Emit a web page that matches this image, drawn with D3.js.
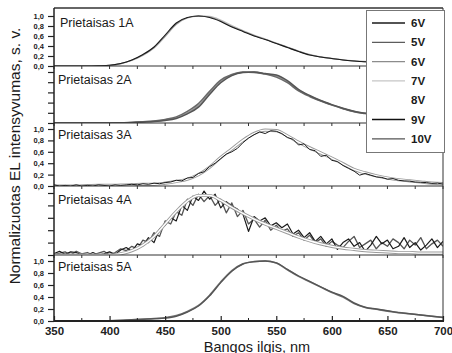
<!DOCTYPE html>
<html><head><meta charset="utf-8">
<script src="https://cdn.jsdelivr.net/npm/d3@7"></script>
<style>
body{margin:0;background:#fff}
svg{display:block;font-family:"Liberation Sans",Arial,sans-serif}
</style>
</head><body>
<svg id="c" width="452" height="353"></svg>
<script>
// ---------- data ----------
const wl10 = [350,360,370,380,390,400,410,420,430,440,450,460,470,480,490,500,510,520,530,540,550,560,570,580,590,600,610,620,630,640,650,660,670,680,690,700];
const wl5 = [350,355,360,365,370,375,380,385,390,395,400,405,410,415,420,425,430,435,440,445,450,455,460,465,470,475,480,485,490,495,500,505,510,515,520,525,530,535,540,545,550,555,560,565,570,575,580,585,590,595,600,605,610,615,620,625,630,635,640,645,650,655,660,665,670,675,680,685,690,695,700];

const xTickValues = [350,400,450,500,550,600,650,700];
const xMinorValues = [375,425,475,525,575,625,675];
const yTickValues = [0,0.2,0.4,0.6,0.8,1.0];
const panelNames = ["Prietaisas 1A","Prietaisas 2A","Prietaisas 3A","Prietaisas 4A","Prietaisas 5A"];
const legendLabels = ["6V","5V","6V","7V","8V","9V","10V"];
const legendColors = ["#1a1a1a","#5c5c5c","#8c8c8c","#c6c6c6","none","#111111","#555555"];
const xTitle = "Bangos ilgis, nm";
const yTitle = "Normalizuotas EL intensyvumas, s. v.";

// Prietaisas 1A
const p1_6V = [0,0,0,0,0.005,0.015,0.05,0.12,0.23,0.38,0.62,0.86,0.97,1.0,0.97,0.89,0.78,0.69,0.6,0.53,0.45,0.37,0.29,0.22,0.18,0.15,0.12,0.1,0.085,0.075,0.065,0.055,0.05,0.045,0.04,0.035];
const p1_7V = [0,0,0,0,0.005,0.012,0.045,0.11,0.21,0.36,0.59,0.83,0.96,1.0,0.99,0.92,0.81,0.71,0.62,0.54,0.46,0.38,0.3,0.23,0.185,0.15,0.125,0.1,0.09,0.08,0.07,0.06,0.05,0.045,0.04,0.035];
const p1_6Vb = [0,0,0,0,0.005,0.013,0.048,0.115,0.22,0.37,0.6,0.84,0.965,1.0,0.98,0.9,0.79,0.7,0.61,0.535,0.455,0.375,0.295,0.225,0.18,0.15,0.12,0.1,0.087,0.077,0.067,0.057,0.05,0.045,0.04,0.035];
// Prietaisas 2A
const p2_5V = [0,0,0,0,0,0,0.005,0.01,0.02,0.03,0.05,0.09,0.18,0.31,0.56,0.79,0.93,0.99,1.0,0.97,0.94,0.83,0.66,0.54,0.44,0.36,0.29,0.23,0.19,0.16,0.13,0.11,0.09,0.08,0.07,0.06];
const p2_10V = [0,0,0,0,0,0,0.005,0.012,0.025,0.04,0.07,0.12,0.23,0.38,0.62,0.84,0.95,1.0,0.99,0.96,0.9,0.79,0.63,0.52,0.43,0.35,0.28,0.22,0.185,0.155,0.13,0.11,0.09,0.08,0.07,0.06];
const p2_6V = [0,0,0,0,0,0,0.005,0.011,0.022,0.035,0.06,0.1,0.2,0.34,0.59,0.81,0.94,0.995,1.0,0.965,0.92,0.81,0.645,0.53,0.435,0.355,0.285,0.225,0.19,0.16,0.13,0.11,0.09,0.08,0.07,0.06];
// Prietaisas 3A
const p3_fit = [0,0,0,0.005,0.01,0.01,0.015,0.02,0.03,0.03,0.05,0.08,0.12,0.2,0.33,0.5,0.65,0.8,0.92,0.98,0.97,0.88,0.77,0.67,0.58,0.49,0.39,0.29,0.23,0.18,0.14,0.11,0.09,0.07,0.05,0.04];
const p3_9V = [0.02,0,0.01,0,0.02,0,0.01,0,0.02,0.01,0,0.02,0.01,0.02,0.03,0.02,0.04,0.03,0.05,0.04,0.06,0.07,0.1,0.09,0.14,0.15,0.22,0.25,0.34,0.4,0.48,0.56,0.6,0.66,0.76,0.84,0.9,0.95,0.92,0.97,0.96,0.92,0.85,0.82,0.72,0.74,0.64,0.62,0.52,0.54,0.45,0.43,0.36,0.31,0.26,0.19,0.22,0.19,0.16,0.15,0.12,0.13,0.1,0.09,0.085,0.07,0.065,0.06,0.045,0.05,0.035];
// Prietaisas 4A
const p4_fit = [0,0,0,0,0,0,0.02,0.07,0.16,0.3,0.5,0.7,0.87,0.96,0.96,0.88,0.77,0.67,0.58,0.5,0.43,0.36,0.29,0.23,0.18,0.14,0.11,0.09,0.07,0.06,0.05,0.04,0.04,0.03,0.03,0.03];
const p4_9V = [0.02,0.06,0.01,0.05,0.04,0,0,0.04,0,0.02,0.05,0.01,0.08,0.12,0.06,0.18,0.15,0.28,0.2,0.42,0.48,0.6,0.55,0.8,0.72,0.95,0.88,1.03,0.9,0.98,0.76,0.86,0.79,0.74,0.66,0.38,0.62,0.55,0.6,0.47,0.52,0.44,0.5,0.34,0.4,0.28,0.36,0.22,0.3,0.18,0.26,0.09,0.2,0.26,0.14,0.2,0.06,0.16,0.3,0.18,0.24,0.1,0.14,0.28,0.12,0.2,0.08,0.16,0.26,0.12,0.22];
const p4_10V = [0,0.03,0.05,0,0.06,0.02,0.04,0,0.03,0.06,0,0.04,0.1,0.07,0.14,0.1,0.24,0.2,0.36,0.3,0.55,0.5,0.7,0.64,0.9,0.8,0.98,0.86,0.96,0.8,0.9,0.68,0.84,0.62,0.72,0.5,0.58,0.45,0.56,0.4,0.48,0.38,0.42,0.3,0.36,0.24,0.32,0.2,0.26,0.14,0.22,0.16,0.12,0.22,0.3,0.12,0.18,0.24,0.1,0.2,0.14,0.26,0.2,0.1,0.24,0.16,0.28,0.1,0.18,0.24,0.14];
// Prietaisas 5A
const p5_5V = [0,0,0,0,0,0.005,0.01,0.02,0.03,0.04,0.05,0.08,0.15,0.25,0.42,0.64,0.83,0.95,0.99,1.0,0.97,0.86,0.75,0.66,0.57,0.48,0.41,0.3,0.23,0.2,0.17,0.14,0.12,0.1,0.08,0.06];
const p5_10V = [0,0,0,0,0,0.005,0.01,0.02,0.03,0.04,0.055,0.09,0.16,0.26,0.43,0.65,0.84,0.955,0.99,1.0,0.965,0.855,0.745,0.655,0.565,0.475,0.4,0.29,0.225,0.195,0.165,0.14,0.12,0.1,0.08,0.06];

// ---------- layout ----------
const svg = d3.select("#c");
const X0 = 54, X1 = 443;
const x = d3.scaleLinear().domain([350,700]).range([X0, X1]);
const panelTop = [8,66,123,186,255];
const panelBottom = [66,123,186,255,321];
const panelOne = [16,72,129,193,261];
const ys = panelTop.map((t,i) => d3.scaleLinear().domain([0,1]).range([panelBottom[i], panelOne[i]]));

const series = [
  {p:0, xs:wl10, v:p1_7V,  c:"#c0c0c0", w:1.3, curve:d3.curveMonotoneX},
  {p:0, xs:wl10, v:p1_6Vb, c:"#8c8c8c", w:1.1, curve:d3.curveMonotoneX},
  {p:0, xs:wl10, v:p1_6V,  c:"#1a1a1a", w:1.1, curve:d3.curveMonotoneX},
  {p:1, xs:wl10, v:p2_6V,  c:"#9a9a9a", w:1.5, curve:d3.curveMonotoneX},
  {p:1, xs:wl10, v:p2_10V, c:"#6a6a6a", w:1.5, curve:d3.curveMonotoneX},
  {p:1, xs:wl10, v:p2_5V,  c:"#555555", w:1.5, curve:d3.curveMonotoneX},
  {p:2, xs:wl10, v:p3_fit, c:"#9a9a9a", w:3.2, curve:d3.curveMonotoneX},
  {p:2, xs:wl10, v:p3_fit, c:"#ffffff", w:1.4, curve:d3.curveMonotoneX},
  {p:2, xs:wl5,  v:p3_9V,  c:"#1a1a1a", w:1.0, curve:d3.curveLinear},
  {p:3, xs:wl5,  v:p4_10V, c:"#555555", w:1.3, curve:d3.curveLinear},
  {p:3, xs:wl5,  v:p4_9V,  c:"#1a1a1a", w:1.2, curve:d3.curveLinear},
  {p:3, xs:wl10, v:p4_fit, c:"#9a9a9a", w:3.2, curve:d3.curveMonotoneX},
  {p:3, xs:wl10, v:p4_fit, c:"#ffffff", w:1.4, curve:d3.curveMonotoneX},
  {p:4, xs:wl10, v:p5_10V, c:"#7a7a7a", w:1.6, curve:d3.curveMonotoneX},
  {p:4, xs:wl10, v:p5_5V,  c:"#555555", w:1.4, curve:d3.curveMonotoneX}
];

const defs = svg.append("defs");
panelTop.forEach((t,i) => {
  defs.append("clipPath").attr("id","clip"+i).append("rect")
    .attr("x",X0).attr("y",t).attr("width",X1-X0).attr("height",panelBottom[i]-t);
});

series.forEach(s => {
  const y = ys[s.p];
  const line = d3.line().x((d,i)=>x(s.xs[i])).y(d=>y(d)).curve(s.curve);
  svg.append("path").attr("clip-path","url(#clip"+s.p+")")
    .attr("d", line(s.v)).attr("fill","none").attr("stroke",s.c)
    .attr("stroke-width",s.w).attr("stroke-linejoin","round");
});

// frame
svg.append("line").attr("x1",X0).attr("x2",X1).attr("y1",8).attr("y2",8).attr("stroke","#666").attr("stroke-width",2);
svg.append("line").attr("x1",X1).attr("x2",X1).attr("y1",8).attr("y2",321).attr("stroke","#333").attr("stroke-width",1);
panelBottom.slice(0,4).forEach(yb => {
  svg.append("line").attr("x1",X0).attr("x2",X1).attr("y1",yb).attr("y2",yb).attr("stroke","#333").attr("stroke-width",1.2);
  svg.append("g").selectAll("line").data(xTickValues.concat(xMinorValues)).join("line")
    .attr("x1",d=>x(d)).attr("x2",d=>x(d)).attr("y1",yb).attr("y2",yb+3)
    .attr("stroke","#333").attr("stroke-width",1);
});

// left axes
const fmt = d => d.toFixed(1).replace(".", ",");
ys.forEach((y,i) => {
  const g = svg.append("g").attr("transform",`translate(${X0},0)`)
    .call(d3.axisLeft(y).tickValues(yTickValues).tickSize(6).tickPadding(4)
      .tickFormat(i % 2 === 0 ? fmt : () => ""));
  g.select(".domain").remove();
  g.selectAll(".tick line").attr("stroke","#222").attr("stroke-width",1.2);
  g.selectAll("text").attr("font-size","7.5px").attr("font-weight","bold").attr("fill","#222")
    .attr("font-family",'"Liberation Sans",Arial,sans-serif');
});
svg.append("line").attr("x1",X0).attr("x2",X0).attr("y1",8).attr("y2",321).attr("stroke","#222").attr("stroke-width",1.5);

// bottom axis
const gx = svg.append("g").attr("transform","translate(0,321)")
  .call(d3.axisBottom(x).tickValues(xTickValues).tickSize(-5).tickPadding(6).tickFormat(d3.format("d")));
gx.select(".domain").remove();
gx.selectAll(".tick line").attr("stroke","#222").attr("stroke-width",1.2);
gx.selectAll("text").attr("font-size","11.5px").attr("font-weight","bold").attr("fill","#222")
  .attr("font-family",'"Liberation Sans",Arial,sans-serif');
svg.append("g").selectAll("line").data(xMinorValues).join("line")
  .attr("x1",d=>x(d)).attr("x2",d=>x(d)).attr("y1",321).attr("y2",318)
  .attr("stroke","#222").attr("stroke-width",1);
svg.append("line").attr("x1",X0).attr("x2",X1+1).attr("y1",321).attr("y2",321).attr("stroke","#222").attr("stroke-width",2);

// panel labels
const labelBase = [26.5,83.5,139,204,271];
panelNames.forEach((n,i) => {
  svg.append("text").attr("x", i===0 ? 60 : 58).attr("y",labelBase[i])
    .attr("font-size","12.5px").attr("fill","#1a1a1a").text(n);
});

// titles
svg.append("text").attr("x",257).attr("y",351.5).attr("text-anchor","middle")
  .attr("font-size","14.5px").attr("fill","#1a1a1a").text(xTitle);
svg.append("text").attr("transform","translate(19.5,156) rotate(-90)").attr("text-anchor","middle")
  .attr("font-size","15.5px").attr("fill","#1a1a1a").text(yTitle);

// legend
const lg = svg.append("g");
lg.append("rect").attr("x",366.5).attr("y",10.5).attr("width",78).attr("height",142)
  .attr("fill","#fff").attr("stroke","#777").attr("stroke-width",1);
legendLabels.forEach((l,i) => {
  const yb = 27 + i*19.3;
  if (legendColors[i] !== "none") {
    lg.append("line").attr("x1",372).attr("x2",405).attr("y1",yb-4).attr("y2",yb-4)
      .attr("stroke",legendColors[i]).attr("stroke-width",1.3);
  }
  lg.append("text").attr("x",411).attr("y",yb).attr("font-size","11.5px")
    .attr("font-weight","bold").attr("fill","#1a1a1a").text(l);
});
</script>
</body></html>
